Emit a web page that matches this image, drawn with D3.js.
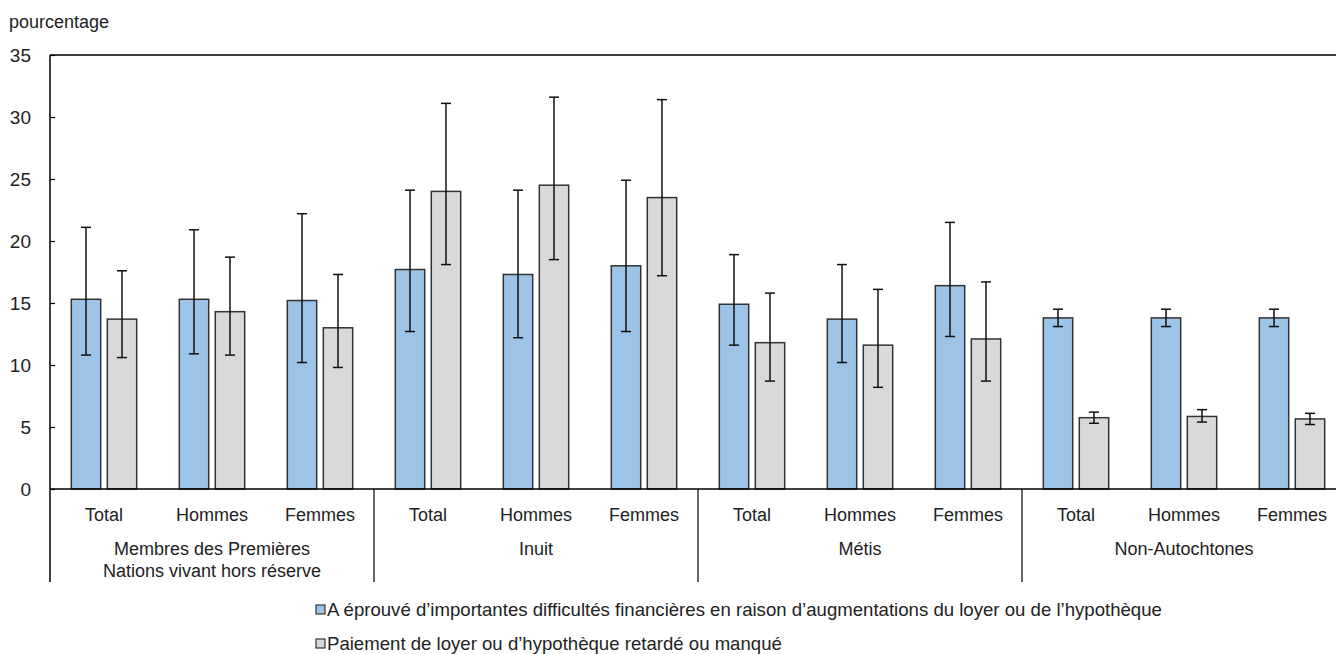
<!DOCTYPE html>
<html>
<head>
<meta charset="utf-8">
<script src="https://cdn.jsdelivr.net/npm/d3@7"></script>
<style>
  body { margin: 0; background: #fff; }
  svg text { font-family: "Liberation Sans", Arial, sans-serif; fill: #222; }
</style>
</head>
<body>
<svg id="chart" width="1336" height="654"></svg>
<script>
// Data
const groups = [
  ['Membres des Premières', 'Nations vivant hors réserve'],
  ['Inuit'],
  ['Métis'],
  ['Non-Autochtones']
];
const sexes = ['Total', 'Hommes', 'Femmes'];
const seriesNames = [
  'A éprouvé d’importantes difficultés financières en raison d’augmentations du loyer ou de l’hypothèque',
  'Paiement de loyer ou d’hypothèque retardé ou manqué'
];
const difficultyValues = [15.3, 15.3, 15.2, 17.7, 17.3, 18.0, 14.9, 13.7, 16.4, 13.8, 13.8, 13.8];
const difficultyLow    = [10.8, 10.9, 10.2, 12.7, 12.2, 12.7, 11.6, 10.2, 12.3, 13.1, 13.1, 13.1];
const difficultyHigh   = [21.1, 20.9, 22.2, 24.1, 24.1, 24.9, 18.9, 18.1, 21.5, 14.5, 14.5, 14.5];
const lateValues = [13.7, 14.3, 13.0, 24.0, 24.5, 23.5, 11.8, 11.6, 12.1, 5.75, 5.85, 5.65];
const lateLow    = [10.6, 10.8, 9.8, 18.1, 18.5, 17.2, 8.7, 8.2, 8.7, 5.3, 5.4, 5.2];
const lateHigh   = [17.6, 18.7, 17.3, 31.1, 31.6, 31.4, 15.8, 16.1, 16.7, 6.2, 6.4, 6.1];
const yTicks = [0, 5, 10, 15, 20, 25, 30, 35];

const colors = ['#9dc3e6', '#d9d9d9'];

// Layout
const margin = {left: 50, top: 55};
const plotBottom = 489;
const bandWidth = 108;

const svg = d3.select('#chart');

// category keys, one per bar pair
const categories = [];
groups.forEach((g, gi) => sexes.forEach(s => categories.push(gi + '-' + s)));

const x0 = d3.scaleBand()
  .domain(categories)
  .range([margin.left, margin.left + bandWidth * categories.length])
  .padding(0);

const x1 = d3.scaleBand()
  .domain([0, 1])
  .range([0, x0.bandwidth()])
  .paddingInner(0.183)
  .paddingOuter(0.592);

const y = d3.scaleLinear()
  .domain([0, 35])
  .range([plotBottom, margin.top]);

// rows for the bars
const rows = categories.map((c, i) => ({
  key: c,
  bars: [
    {s: 0, v: difficultyValues[i], lo: difficultyLow[i], hi: difficultyHigh[i]},
    {s: 1, v: lateValues[i], lo: lateLow[i], hi: lateHigh[i]}
  ]
}));

// y axis label
svg.append('text')
  .attr('x', 9)
  .attr('y', 28)
  .style('font-size', '18px')
  .text('pourcentage');

// top frame line
svg.append('line')
  .attr('x1', margin.left).attr('x2', 1336)
  .attr('y1', y(35)).attr('y2', y(35))
  .attr('stroke', '#000').attr('stroke-width', 1.5);

// y axis with ticks pointing inward
const yAxis = svg.append('g')
  .attr('transform', `translate(${margin.left},0)`)
  .call(d3.axisRight(y).tickValues(yTicks).tickSize(5).tickSizeOuter(0).tickFormat(d3.format('d')));
yAxis.select('.domain').remove();
yAxis.selectAll('.tick line').attr('stroke', '#000').attr('stroke-width', 1.2);
yAxis.selectAll('.tick text')
  .attr('x', -19)
  .attr('text-anchor', 'end')
  .style('font-size', '19px')
  .style('font-family', '"Liberation Sans", Arial, sans-serif')
  .attr('fill', '#222');

// bars
const cat = svg.append('g').selectAll('g')
  .data(rows)
  .enter().append('g')
  .attr('transform', d => `translate(${x0(d.key)},0)`);

cat.selectAll('rect')
  .data(d => d.bars)
  .enter().append('rect')
  .attr('x', d => x1(d.s))
  .attr('width', x1.bandwidth())
  .attr('y', d => y(d.v))
  .attr('height', d => y(0) - y(d.v))
  .attr('fill', d => colors[d.s])
  .attr('stroke', '#333')
  .attr('stroke-width', 1.5);

// error bars
const err = cat.selectAll('g.err')
  .data(d => d.bars)
  .enter().append('g')
  .attr('class', 'err')
  .attr('stroke', '#111')
  .attr('stroke-width', 1.5);
const cx = d => x1(d.s) + x1.bandwidth() / 2;
err.append('line')
  .attr('x1', cx).attr('x2', cx)
  .attr('y1', d => y(d.lo)).attr('y2', d => y(d.hi));
err.append('line')
  .attr('x1', d => cx(d) - 5).attr('x2', d => cx(d) + 5)
  .attr('y1', d => y(d.lo)).attr('y2', d => y(d.lo));
err.append('line')
  .attr('x1', d => cx(d) - 5).attr('x2', d => cx(d) + 5)
  .attr('y1', d => y(d.hi)).attr('y2', d => y(d.hi));

// baseline and left axis line (extends through the category area)
svg.append('line')
  .attr('x1', margin.left).attr('x2', 1336)
  .attr('y1', y(0)).attr('y2', y(0))
  .attr('stroke', '#000').attr('stroke-width', 1.5);
svg.append('line')
  .attr('x1', margin.left).attr('x2', margin.left)
  .attr('y1', y(35)).attr('y2', 582)
  .attr('stroke', '#000').attr('stroke-width', 1.5);

// group separators
groups.forEach((g, gi) => {
  if (gi === 0) return;
  const xs = x0(gi + '-Total');
  svg.append('line')
    .attr('x1', xs).attr('x2', xs)
    .attr('y1', y(0)).attr('y2', 582)
    .attr('stroke', '#000').attr('stroke-width', 1.2);
});

// sex labels
svg.append('g').selectAll('text')
  .data(categories)
  .enter().append('text')
  .attr('x', d => x0(d) + x0.bandwidth() / 2)
  .attr('y', 521)
  .attr('text-anchor', 'middle')
  .style('font-size', '18px')
  .text(d => d.split('-')[1]);

// group labels
groups.forEach((lines, gi) => {
  const start = x0(gi + '-Total');
  const t = svg.append('text')
    .attr('x', start + x0.bandwidth() * 1.5)
    .attr('y', 555)
    .attr('text-anchor', 'middle')
    .style('font-size', '18px');
  lines.forEach((l, li) => {
    t.append('tspan')
      .attr('x', start + x0.bandwidth() * 1.5)
      .attr('dy', li === 0 ? 0 : 22)
      .text(l);
  });
});

// legend
const legend = svg.append('g').selectAll('g')
  .data(seriesNames)
  .enter().append('g')
  .attr('transform', (d, i) => `translate(316,${605 + i * 34})`);
legend.append('rect')
  .attr('width', 9).attr('height', 9)
  .attr('fill', (d, i) => colors[i])
  .attr('stroke', '#333').attr('stroke-width', 1.2);
legend.append('text')
  .attr('x', 11)
  .attr('y', 10.5)
  .style('font-size', '18.6px')
  .text(d => d);
</script>
</body>
</html>
